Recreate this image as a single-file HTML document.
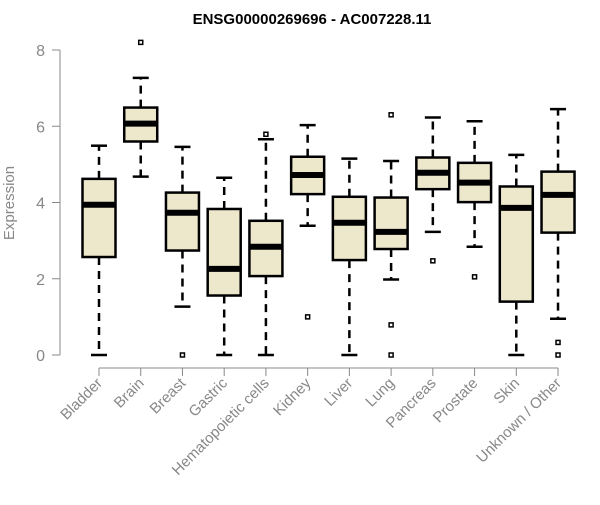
<!DOCTYPE html>
<html><head><meta charset="utf-8"><style>
body{margin:0;background:#fff;font-family:"Liberation Sans",Arial,sans-serif}
svg text{font-family:"Liberation Sans",Arial,sans-serif}
</style></head><body>
<svg id="chart" width="600" height="500" xmlns="http://www.w3.org/2000/svg">
<text x="312" y="24" text-anchor="middle" font-weight="bold" font-size="15" fill="#000">ENSG00000269696 - AC007228.11</text>
<text transform="translate(14,203) rotate(-90)" text-anchor="middle" font-size="15" fill="#888">Expression</text>
<g id="plot"></g>
</svg>
<script>
const categories=["Bladder","Brain","Breast","Gastric","Hematopoietic cells","Kidney","Liver","Lung","Pancreas","Prostate","Skin","Unknown / Other"];
const lowW=[0,4.68,1.27,0,0,3.39,0,1.98,3.23,2.84,0,0.95];
const q1=[2.57,5.6,2.74,1.56,2.07,4.22,2.49,2.78,4.35,4.01,1.4,3.21];
const med=[3.94,6.07,3.73,2.26,2.84,4.72,3.47,3.23,4.78,4.52,3.86,4.2];
const q3=[4.62,6.49,4.26,3.83,3.52,5.2,4.15,4.13,5.18,5.04,4.42,4.81];
const highW=[5.49,7.27,5.46,4.65,5.66,6.03,5.15,5.09,6.23,6.13,5.25,6.45];
const outliers=[[],[8.2],[0],[],[5.79],[1.0],[],[6.3,0.79,0],[2.47],[2.05],[],[0.33,0]];
const yTicks=[0,2,4,6,8];
const NS="http://www.w3.org/2000/svg";
const g=document.getElementById("plot");
const y=v=>355-v*38.125;
const x=i=>99+i*41.73;
function mk(t,a){const e=document.createElementNS(NS,t);for(const k in a)e.setAttribute(k,a[k]);g.appendChild(e);return e;}
let ax=mk("line",{x1:60,x2:60,y1:y(yTicks[0]),y2:y(yTicks[yTicks.length-1]),stroke:"#888","stroke-width":1});


yTicks.forEach(t=>{
 const l=mk("line",{x1:52,x2:60,y1:y(t),y2:y(t),stroke:"#888"});
 
 
 const tx=mk("text",{x:45,y:y(t)+6,"text-anchor":"end","font-size":16,fill:"#888"});
 tx.textContent=t;
 
 
});
let bx=mk("line",{x1:x(0),x2:x(categories.length-1),y1:368,y2:368,stroke:"#888"});


const hw=16.5;
categories.forEach((c,i)=>{
 const cx=x(i);
 const t=mk("line",{x1:cx,x2:cx,y1:368,y2:376,stroke:"#888"});
 
 
 const lb=mk("text",{transform:`translate(${cx+4},${384}) rotate(-45)`,"text-anchor":"end","font-size":15,fill:"#888"});
 lb.textContent=c;
 
 
 const d={stroke:"#000","stroke-width":2.5,"stroke-dasharray":"8,6"};
 const w1=mk("line",Object.assign({x1:cx,x2:cx,y1:y(q3[i]),y2:y(highW[i])},d));
 
 
 const w2=mk("line",Object.assign({x1:cx,x2:cx,y1:y(q1[i]),y2:y(lowW[i])},d));
 
 
 [highW[i],lowW[i]].forEach(v=>{
  const cap=mk("line",{x1:cx-8,x2:cx+8,y1:y(v),y2:y(v),stroke:"#000","stroke-width":2.5});
  
  
 });
 const b=mk("rect",{x:cx-hw,y:y(q3[i]),width:2*hw,height:y(q1[i])-y(q3[i]),fill:"#ede8cc",stroke:"#000","stroke-width":2.5});
 
 
 const m=mk("line",{x1:cx-hw,x2:cx+hw,y1:y(med[i]),y2:y(med[i]),stroke:"#000","stroke-width":6});
 
 
 outliers[i].forEach(v=>{
  const o=mk("rect",{x:cx-2,y:y(v)-2,width:4,height:4,fill:"#fff",stroke:"#000","stroke-width":1.5});
  
  
 });
});
</script>
</body></html>
